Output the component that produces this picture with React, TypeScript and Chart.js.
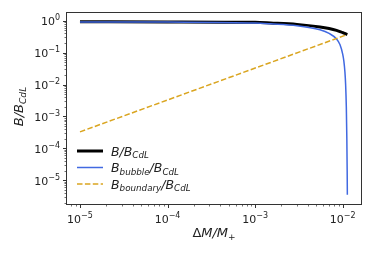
import React, { useEffect, useRef } from "react";
import { Chart, registerables } from "chart.js";

Chart.register(...registerables);

// ---- data ----
const xTotal = [1e-5, 1e-4, 1e-3, 1.5e-3, 3e-3, 5.5e-3, 7e-3, 8.5e-3, 9.5e-3, 0.0105, 0.0113];
const bTotal = [0.925, 0.92, 0.89, 0.85, 0.77, 0.64, 0.57, 0.50, 0.45, 0.40, 0.37];

const xBubble = [1e-5, 1e-4, 1e-3, 1.5e-3, 3e-3, 5.5e-3, 7e-3, 8.5e-3, 9.3e-3, 0.0100, 0.0103, 0.0106, 0.0108, 0.0110, 0.01115, 0.01125, 0.0113];
const bBubble = [0.92, 0.91, 0.85, 0.80, 0.70, 0.52, 0.40, 0.27, 0.18, 0.09, 0.055, 0.025, 0.01, 0.002, 2e-4, 2e-5, 3.5e-6];

const xBoundary = [1e-5, 0.0113];
const bBoundary = [3.3e-4, 0.37];

const xMajorExps = [-5, -4, -3, -2];
const yMajorExps = [-5, -4, -3, -2, -1, 0];

const X_MIN = 7.11e-6;
const X_MAX = 0.01618;
const Y_MIN = 1.81e-6;
const Y_MAX = 1.75;

const FONT = "'DejaVu Sans', sans-serif";
const TXT = "#222222";

type Part = { t: string; it?: boolean; s: number; dy?: number };

function partsWidth(ctx: CanvasRenderingContext2D, parts: Part[]) {
  let w = 0;
  for (const p of parts) {
    ctx.font = `${p.it ? "italic " : ""}${p.s}px ${FONT}`;
    w += ctx.measureText(p.t).width;
  }
  return w;
}

function drawParts(ctx: CanvasRenderingContext2D, parts: Part[], x: number, y: number) {
  let cx = x;
  ctx.textBaseline = "alphabetic";
  ctx.textAlign = "left";
  for (const p of parts) {
    ctx.font = `${p.it ? "italic " : ""}${p.s}px ${FONT}`;
    ctx.fillText(p.t, cx, y + (p.dy || 0));
    cx += ctx.measureText(p.t).width;
  }
  return cx - x;
}

function powParts(e: number): Part[] {
  const ex = e < 0 ? "\u2212" + String(-e) : String(e);
  return [
    { t: "10", s: 11 },
    { t: ex, s: 8, dy: -4.5 },
  ];
}

const sub = (t: string, s: number): Part => ({ t, it: true, s: s * 0.7, dy: s * 0.22 });

const legendItems = [
  {
    color: "#000000", width: 3, dash: [] as number[],
    parts: (s: number): Part[] => [{ t: "B/B", it: true, s }, sub("CdL", s)],
  },
  {
    color: "#4169e1", width: 1.5, dash: [] as number[],
    parts: (s: number): Part[] => [{ t: "B", it: true, s }, sub("bubble", s), { t: "/B", it: true, s }, sub("CdL", s)],
  },
  {
    color: "#daa520", width: 1.5, dash: [5.5, 2.4],
    parts: (s: number): Part[] => [{ t: "B", it: true, s }, sub("boundary", s), { t: "/B", it: true, s }, sub("CdL", s)],
  },
];

const decorPlugin = {
  id: "decor",
  afterDraw(chart: any) {
    const ctx: CanvasRenderingContext2D = chart.ctx;
    const { left, right, top, bottom } = chart.chartArea;
    const xs = chart.scales.x;
    const ys = chart.scales.y;
    ctx.save();

    // frame
    ctx.strokeStyle = "#333333";
    ctx.lineWidth = 1;
    ctx.strokeRect(Math.round(left) - 0.5, Math.round(top) - 0.5, Math.round(right - left) + 1, Math.round(bottom - top) + 1);

    // ticks
    ctx.strokeStyle = "#333333";
    const tick = (p: number, major: boolean, axis: "x" | "y") => {
      const len = major ? 3.5 : 2;
      ctx.lineWidth = major ? 1 : 0.7;
      ctx.beginPath();
      if (axis === "x") {
        const px = Math.round(p) + 0.5;
        ctx.moveTo(px, bottom + 0.5);
        ctx.lineTo(px, bottom + 0.5 + len);
      } else {
        const py = Math.round(p) + 0.5;
        ctx.moveTo(left - 0.5, py);
        ctx.lineTo(left - 0.5 - len, py);
      }
      ctx.stroke();
    };
    for (let e = -6; e <= 0; e++) {
      for (let m = 1; m <= 9; m++) {
        const v = m * Math.pow(10, e);
        if (v >= X_MIN && v <= X_MAX) tick(xs.getPixelForValue(v), m === 1, "x");
        if (v >= Y_MIN && v <= Y_MAX) tick(ys.getPixelForValue(v), m === 1, "y");
      }
    }

    // tick labels
    ctx.fillStyle = TXT;
    for (const e of xMajorExps) {
      const px = xs.getPixelForValue(Math.pow(10, e));
      const parts = powParts(e);
      const w = partsWidth(ctx, parts);
      drawParts(ctx, parts, px - w / 2, bottom + 18.5);
    }
    for (const e of yMajorExps) {
      const py = ys.getPixelForValue(Math.pow(10, e));
      const parts = powParts(e);
      const w = partsWidth(ctx, parts);
      drawParts(ctx, parts, left - 7 - w, py + 4.2);
    }

    // x title
    const xt: Part[] = [
      { t: "\u0394", s: 13 },
      { t: "M/M", it: true, s: 13 },
      { t: "+", s: 9, dy: 3 },
    ];
    const xw = partsWidth(ctx, xt);
    drawParts(ctx, xt, (left + right) / 2 - xw / 2, 237);

    // y title
    const yt: Part[] = [{ t: "B/B", it: true, s: 13 }, sub("CdL", 13)];
    const yw = partsWidth(ctx, yt);
    ctx.save();
    ctx.translate(23, (top + bottom) / 2 - 2);
    ctx.rotate(-Math.PI / 2);
    drawParts(ctx, yt, -yw / 2, 0);
    ctx.restore();

    // legend
    const ly = [151, 167.5, 184];
    legendItems.forEach((it, i) => {
      ctx.save();
      ctx.strokeStyle = it.color;
      ctx.lineWidth = it.width;
      ctx.setLineDash(it.dash);
      ctx.beginPath();
      ctx.moveTo(77, ly[i]);
      ctx.lineTo(103, ly[i]);
      ctx.stroke();
      ctx.restore();
      ctx.fillStyle = TXT;
      drawParts(ctx, it.parts(12.5), 111, ly[i] + 4.5);
    });

    ctx.restore();
  },
};

export default function App() {
  const ref = useRef<HTMLCanvasElement | null>(null);
  useEffect(() => {
    if (!ref.current) return;
    const toPts = (xa: number[], ya: number[]) => xa.map((x, i) => ({ x, y: ya[i] }));
    const chart = new Chart(ref.current, {
      type: "line",
      data: {
        datasets: [
          {
            label: "B/B_CdL",
            data: toPts(xTotal, bTotal),
            borderColor: "#000000",
            borderWidth: 3,
            pointRadius: 0,
            cubicInterpolationMode: "monotone",
            order: 3,
          },
          {
            label: "B_bubble/B_CdL",
            data: toPts(xBubble, bBubble),
            borderColor: "#4169e1",
            borderWidth: 1.5,
            pointRadius: 0,
            cubicInterpolationMode: "monotone",
            order: 2,
          },
          {
            label: "B_boundary/B_CdL",
            data: toPts(xBoundary, bBoundary),
            borderColor: "#daa520",
            borderWidth: 1.5,
            borderDash: [5.5, 2.4],
            pointRadius: 0,
            order: 1,
          },
        ],
      },
      options: {
        animation: false,
        responsive: false,
        devicePixelRatio: 1,
        layout: { padding: { left: 0, right: 13, top: 13, bottom: 0 } },
        plugins: { legend: { display: false }, tooltip: { enabled: false } },
        scales: {
          x: {
            type: "logarithmic",
            min: X_MIN,
            max: X_MAX,
            grid: { display: false },
            border: { display: false },
            ticks: { display: false },
            afterFit: (s: any) => { s.height = 53; },
          },
          y: {
            type: "logarithmic",
            min: Y_MIN,
            max: Y_MAX,
            grid: { display: false },
            border: { display: false },
            ticks: { display: false },
            afterFit: (s: any) => { s.width = 67; },
          },
        },
      } as any,
      plugins: [decorPlugin],
    });
    return () => chart.destroy();
  }, []);
  return (
    <div style={{ position: "absolute", left: 0, top: 0, width: 374, height: 257, background: "#ffffff" }}>
      <canvas ref={ref} width={374} height={257} />
    </div>
  );
}
